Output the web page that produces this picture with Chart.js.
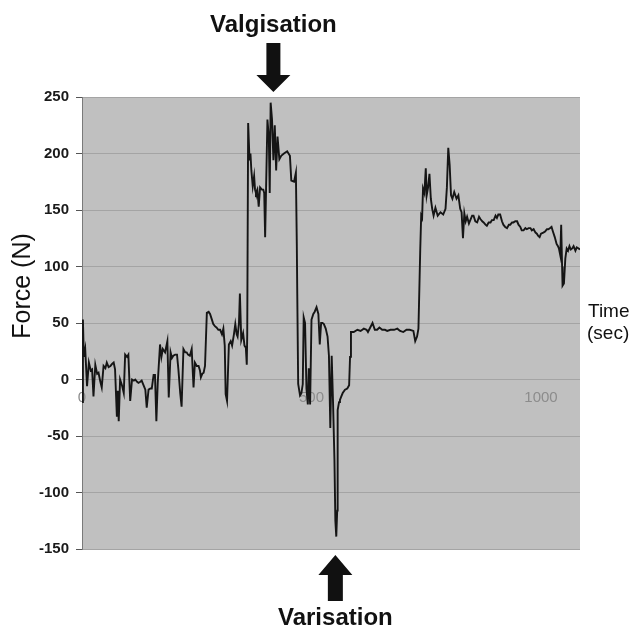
<!DOCTYPE html>
<html>
<head>
<meta charset="utf-8">
<script src="https://cdn.jsdelivr.net/npm/chart.js@4/dist/chart.umd.min.js"></script>
<style>
  html, body { margin: 0; padding: 0; background: #fff; }
  #wrap { width: 634px; height: 629px; }
</style>
</head>
<body>
<div id="wrap"><canvas id="forceChart" width="634" height="629"></canvas></div>
<script>
// time (sec) and force (N)
var times = [0, 2, 4, 7, 11, 15, 19, 22, 25, 29, 33, 36, 40, 43, 47, 51, 54, 58, 62, 66, 69, 72, 76, 78, 80, 83, 87, 91, 94, 98,
  101, 105, 109, 113, 116, 120, 123, 127, 130, 134, 138, 141, 145, 149, 152, 156, 159, 162, 165, 170, 173, 176, 181, 186, 189, 193, 196, 199,
  203, 207, 210, 214, 217, 221, 225, 228, 231, 235, 239, 243, 246, 250, 254, 257, 259, 262, 265, 268, 272, 276, 279, 283, 286, 290, 293, 297,
  301, 305, 308, 311, 313, 316, 320, 324, 327, 331, 334, 337, 339, 342, 344, 347, 351, 354, 357, 359, 360, 362, 365, 367, 369, 372, 375, 377,
  379, 382, 385, 388, 392, 395, 397, 399, 401, 404, 407, 409, 411, 414, 417, 420, 423, 426, 430, 434, 440, 447, 453, 456, 462, 466, 468, 469,
  471, 475, 478, 481, 483, 486, 489, 492, 494, 497, 500, 504, 507, 511, 515, 518, 521, 524, 527, 531, 535, 538, 541, 544, 547, 550, 552, 554,
  556, 557, 560, 562, 565, 568, 573, 578, 582, 584, 586, 592, 600, 607, 614, 620, 623, 628, 633, 638, 643, 648, 654, 660, 665, 672, 680, 687,
  693, 700, 707, 714, 722, 726, 730, 733, 735, 737, 739, 741, 743, 746, 749, 751, 754, 757, 760, 763, 766, 770, 775, 781, 787, 792, 795, 798,
  801, 804, 807, 811, 816, 820, 824, 827, 830, 833, 836, 839, 843, 846, 850, 853, 857, 861, 865, 868, 872, 875, 879, 882, 886, 890, 893, 897,
  901, 904, 907, 911, 915, 918, 922, 926, 930, 933, 937, 940, 944, 948, 951, 955, 958, 962, 966, 969, 973, 977, 980, 984, 988, 991, 994, 997,
  1000, 1005, 1009, 1013, 1016, 1020, 1023, 1026, 1030, 1034, 1037, 1039, 1042, 1044, 1046, 1047, 1050, 1053, 1056, 1059, 1062, 1065, 1068,
  1071, 1075, 1078, 1082, 1085];
var forces = [-20, 53, 20, 27, -6, 15, 8, 9, -15, 13, 5, 6, -2, -7, 12, 10, 15, 11, 12, 14, 15, 9, -33, -10, -37, 0, -5, -12, 22, 20,
  22, -19, 0, -1, 0, -2, -3, -2, -1, -5, -9, -25, -9, -8, -8, 4, 4, -37, -3, 31, 20, 27, 24, 34, -16, 24, 19, 21,
  22, 22, 9, -12, -24, 27, 24, 24, 22, 21, 27, -7, 15, 12, 12, 8, 2, 5, 6, 12, 59, 60, 58, 53, 49, 47, 46, 44,
  44, 40, 45, 30, -13, -19, 31, 34, 30, 40, 49, 40, 38, 50, 76, 35, 41, 30, 28, 13, 40, 227, 194, 200, 185, 171, 180, 168,
  165, 168, 153, 170, 168, 168, 165, 126, 168, 230, 215, 165, 245, 230, 194, 225, 185, 215, 195, 198, 200, 202, 198, 176, 175, 183, 120, 76,
  -4, -14, -12, -4, 55, 50, -8, -22, 10, -22, 53, 58, 60, 64, 58, 31, 50, 50, 49, 45, 38, 21, -43, 21, -21, -71, -125, -139,
  -116, -27, -20, -18, -15, -12, -9, -8, -5, 20, 42, 42, 44, 43, 45, 44, 42, 46, 50, 44, 44, 46, 44, 44, 43, 44, 44, 45,
  43, 42, 44, 44, 43, 34, 38, 45, 80, 116, 145, 143, 169, 165, 187, 163, 170, 182, 160, 151, 145, 152, 145, 148, 146, 151, 170, 205,
  190, 163, 160, 166, 160, 163, 151, 148, 125, 147, 140, 144, 138, 141, 145, 145, 140, 139, 144, 142, 140, 139, 137, 136, 139, 139, 141, 141,
  145, 143, 146, 146, 140, 137, 135, 134, 137, 137, 139, 139, 140, 140, 137, 135, 132, 132, 134, 133, 134, 134, 132, 133, 130, 129, 127, 126,
  129, 130, 131, 133, 133, 134, 135, 131, 126, 120, 118, 116, 110, 137, 100, 83, 85, 107, 116, 114, 118, 115, 116,
  118, 114, 117, 116, 115];

var xTicks = [0, 500, 1000];
var yTicks = [-150, -100, -50, 0, 50, 100, 150, 200, 250];

// arrows: the time each one points at
var valgisationAt = 417;
var varisationAt = 552;

var points = times.map((t, i) => ({ x: t, y: forces[i] }));

function arrow(ctx, x, tipY, headY, tailY, headHalf, shaftHalf) {
    ctx.beginPath();
    ctx.moveTo(x, tipY);
    ctx.lineTo(x + headHalf, headY);
    ctx.lineTo(x + shaftHalf, headY);
    ctx.lineTo(x + shaftHalf, tailY);
    ctx.lineTo(x - shaftHalf, tailY);
    ctx.lineTo(x - shaftHalf, headY);
    ctx.lineTo(x - headHalf, headY);
    ctx.closePath();
    ctx.fill();
}

var decor = {
    id: 'decor',
    beforeDraw(chart) {
        var a = chart.chartArea, ctx = chart.ctx;
        ctx.save();
        ctx.fillStyle = '#c0c0c0';
        ctx.fillRect(a.left, a.top, a.right - a.left, a.bottom - a.top);
        ctx.restore();
    },
    afterDraw(chart) {
        var ctx = chart.ctx, xs = chart.scales.x;
        var xv = xs.getPixelForValue(valgisationAt);
        var xr = xs.getPixelForValue(varisationAt);
        ctx.save();
        ctx.fillStyle = '#111';
        // Valgisation (down arrow)
        arrow(ctx, xv, 92, 75, 43, 17, 7);
        // Varisation (up arrow)
        arrow(ctx, xr, 555, 575, 601, 17, 7.5);

        ctx.textAlign = 'center';
        ctx.textBaseline = 'alphabetic';
        ctx.font = 'bold 24px "Liberation Sans", Arial, sans-serif';
        ctx.fillText('Valgisation', xv, 32);
        ctx.fillText('Varisation', xr, 625);

        ctx.font = '19px "Liberation Sans", Arial, sans-serif';
        ctx.textAlign = 'left';
        ctx.fillText('Time', 588, 317);
        ctx.fillText('(sec)', 587, 339);

        ctx.translate(23, 286);
        ctx.rotate(-Math.PI / 2);
        ctx.textAlign = 'center';
        ctx.textBaseline = 'middle';
        ctx.font = '25px "Liberation Sans", Arial, sans-serif';
        ctx.fillText('Force (N)', 0, 0);
        ctx.restore();
    }
};

var ctx1 = document.getElementById('forceChart').getContext('2d');
var forceChart = new Chart(ctx1, {
    type: 'line',
    data: {
        datasets: [{
            data: points,
            borderColor: '#151515',
            borderWidth: 1.9,
            pointRadius: 0,
            tension: 0,
            fill: false
        }]
    },
    options: {
        responsive: false,
        animation: false,
        layout: {
            padding: { left: 0, top: 97, right: 54, bottom: 80 }
        },
        scales: {
            x: {
                type: 'linear',
                min: 0,
                max: 1085,
                position: { y: 0 },
                afterBuildTicks: function (s) { s.ticks = xTicks.map(v => ({ value: v })); },
                grid: { display: false, drawTicks: false },
                border: { display: false },
                ticks: {
                    color: '#8c8c8c',
                    padding: 9,
                    maxRotation: 0,
                    callback: function (v) { return String(v); },
                    font: { size: 15, family: '"Liberation Sans", Arial, sans-serif' }
                }
            },
            y: {
                min: -150,
                max: 250,
                afterBuildTicks: function (s) { s.ticks = yTicks.map(v => ({ value: v })); },
                afterFit: function (s) { s.width = 82; },
                grid: {
                    color: '#a4a4a4',
                    tickColor: '#555',
                    tickLength: 6,
                    lineWidth: 1
                },
                border: { display: true, color: '#7a7a7a', width: 1 },
                ticks: {
                    color: '#1a1a1a',
                    padding: 7,
                    callback: function (v) { return String(v); },
                    font: { size: 15, weight: 'bold', family: '"Liberation Sans", Arial, sans-serif' }
                }
            }
        },
        plugins: {
            legend: { display: false },
            tooltip: { enabled: false }
        }
    },
    plugins: [decor]
});
</script>
</body>
</html>
